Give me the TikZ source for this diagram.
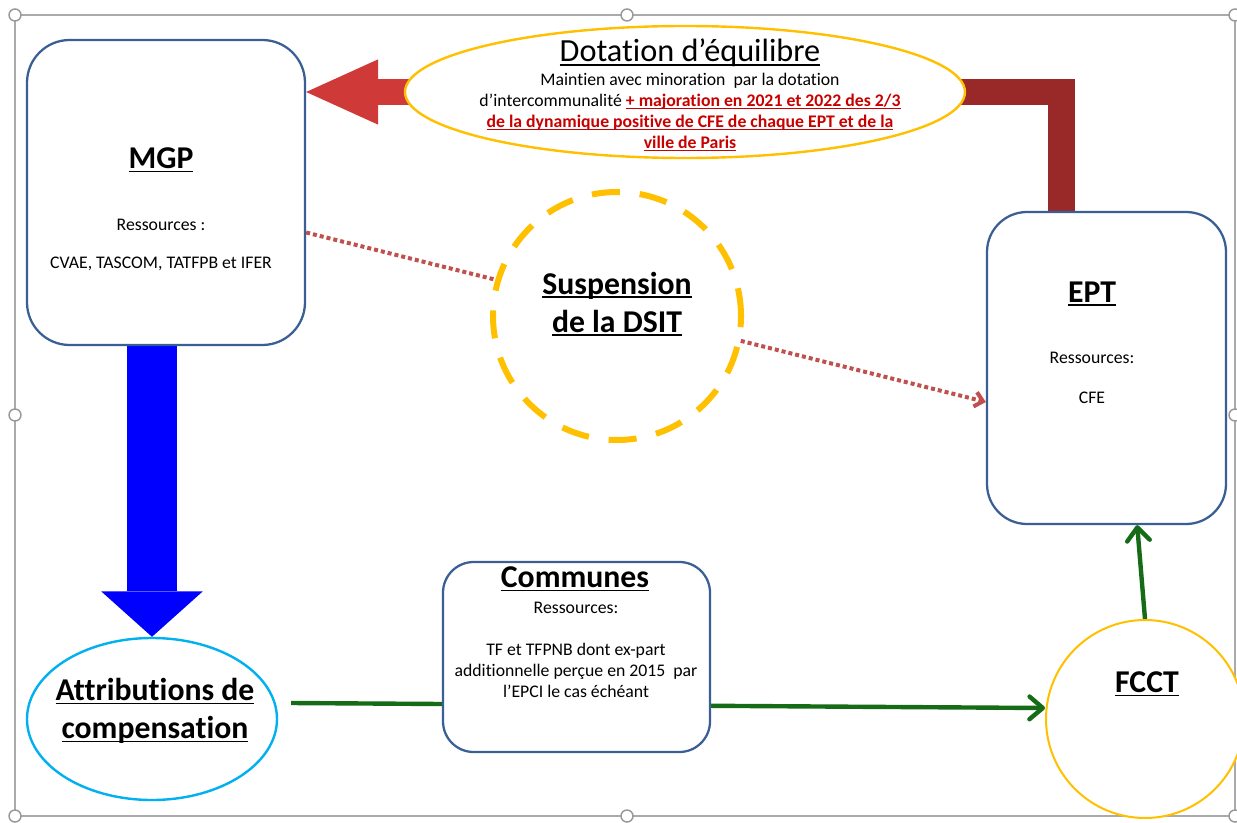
\documentclass[tikz,border=0pt]{standalone}
\usepackage{fontspec}
\setmainfont{Carlito}[Ligatures=NoCommon]
\usetikzlibrary{arrows.meta,backgrounds,shapes.geometric}

\definecolor{bleuBord}{RGB}{59,94,148}
\definecolor{orangeB}{RGB}{255,192,0}
\definecolor{cyanB}{RGB}{0,176,240}
\definecolor{rougeF}{RGB}{207,58,56}
\definecolor{bordeaux}{RGB}{153,40,40}
\definecolor{bleuF}{RGB}{0,0,255}
\definecolor{vertF}{RGB}{22,108,22}
\definecolor{rougeP}{RGB}{192,80,77}
\definecolor{rougeT}{RGB}{200,0,0}
\definecolor{gris}{RGB}{170,170,170}

\newcommand\souligne[3]{\setbox0\hbox{#3}\rlap{\rule[-#1]{\wd0}{#2}}\box0}
\newcommand\titre[1]{\souligne{2.8pt}{1.3pt}{#1}}
\newcommand\rouge[1]{{\color{rougeT}\bfseries\souligne{1.8pt}{0.8pt}{#1}}}

\tikzset{
  cadre/.style={draw=gris, line width=1.1pt},
  poignee/.style={draw=gris!90!black, line width=1.1pt, fill=white},
  boite/.style={draw=bleuBord, line width=1.7pt, fill=white, rounded corners=30pt, inner sep=0pt},
  bulle/.style={ellipse, line width=1.8pt, fill=white, inner sep=0pt},
  titreT/.style={font=\fontsize{23.8}{28.5}\selectfont\bfseries, align=center, inner sep=0pt},
  petit/.style={font=\fontsize{13.3}{15.75}\selectfont, align=center, inner sep=0pt},
  pointille/.style={draw=rougeP, line width=3pt, dash pattern=on 3pt off 2.25pt, -{Straight Barb[length=6pt,width=11pt]}},
  vert/.style={draw=vertF, line width=3.3pt, -{Straight Barb[length=10pt,width=17pt,round]}},
}

\begin{document}
\begin{tikzpicture}[x=0.75pt,y=-0.75pt]
\useasboundingbox (0,0) rectangle (1237,823);
\clip (0,0) rectangle (1237,823);

\draw[cadre] (15,15) rectangle (1235,816);
\foreach \p in {(15,15),(627,15),(1235,15),(15,415),(1235,415),(15,816),(627,816),(1235,816)}
  \draw[poignee] \p circle (4.5pt);

% boites
\node[boite, minimum width=208.5pt, minimum height=228.75pt, rounded corners=32pt] (mgp) at (166,192.5) {};
\node[boite, minimum width=179.25pt, minimum height=234pt] (ept) at (1106.5,368) {};
\node[boite, minimum width=200.25pt, minimum height=142.5pt, rounded corners=23pt] (com) at (576.5,657) {};
\node[bulle, draw=orangeB, minimum width=420pt, minimum height=99pt] (dot) at (685,92) {};
\node[bulle, draw=cyanB, minimum width=187.5pt, minimum height=121.5pt] (attr) at (152,719) {};
\node[circle, draw=orangeB, line width=1.5pt, fill=white, inner sep=0pt, minimum size=148.5pt] (fcct) at (1145,719) {};

% textes
\node[titreT] (mgpT) at (161,160) {\titre{MGP}};
\node[petit] (mgpR) at (161,225) {Ressources :};
\node[petit] (mgpL) at (161,264) {CVAE, TASCOM, TATFPB et IFER};
\node[titreT] (eptT) at (1092,294) {\titre{EPT}};
\node[petit] (eptR) at (1092,358) {Ressources:};
\node[petit] (eptL) at (1092,398) {CFE};
\node[titreT] (comT) at (575,579) {\titre{Communes}};
\node[petit] (comR) at (576,608) {Ressources:};
\node[petit] (comL) at (576,670) {TF et TFPNB dont ex-part\\additionnelle perçue en 2015\ \ par\\l’EPCI le cas échéant};
\node[titreT, font=\fontsize{24.2}{28.5}\selectfont] (dotT) at (690,53) {\titre{Dotation d’équilibre}};
\node[petit] (dotL) at (690,112) {Maintien avec minoration\ \ par la dotation\\
  d’intercommunalité \rouge{+ majoration en 2021 et 2022 des 2/3}\\
  \rouge{de la dynamique positive de CFE de chaque EPT et de la}\\
  \rouge{ville de Paris}};
\node[titreT] (attrT) at (155,711) {\titre{Attributions de}\\\titre{compensation}};
\node[titreT] (fcctT) at (1147,684) {\titre{FCCT}};

% fleches
\begin{scope}[on background layer]
  \draw[draw=rougeF, line width=20pt, -{Triangle[length=54pt,width=49pt,line width=0pt]}] (dot.center) -- (dot.center -| mgp.east);
  \draw[draw=bordeaux, line width=20pt] (dot.center) -| ([xshift=-34pt]ept.north);
  \draw[draw=bleuF, line width=37.5pt, -{Triangle[length=34pt,width=76pt,line width=0pt]}] (attr.north |- mgp.south) -- (attr.north);
  \draw[pointille] ([yshift=-30pt]mgp.east) -- ([yshift=-25.5pt]ept.west);
  \coordinate (ac) at ([xshift=9.75pt,yshift=12pt]attr.east);
  \draw[vert] (ac) -- ([yshift=8.25pt]fcct.west);
  \draw[vert] (fcct.north) -- ([xshift=23pt]ept.south);
\end{scope}

\node[circle, draw=orangeB, line width=4.5pt, dash pattern=on 21pt off 15pt, fill=white, inner sep=0pt, minimum size=186pt] (dsit) at (617,316) {};
\node[titreT] (dsitT) at (617,304) {\titre{Suspension}\\\titre{de la DSIT}};
\end{tikzpicture}
\end{document}
